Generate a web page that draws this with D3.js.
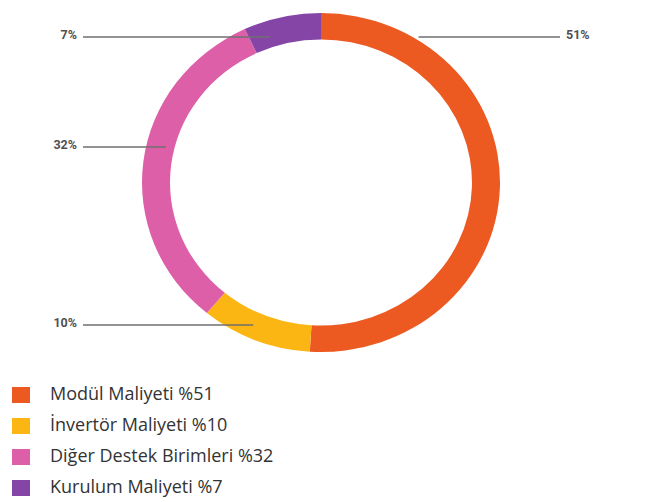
<!DOCTYPE html>
<html><head><meta charset="utf-8">
<script src="https://cdn.jsdelivr.net/npm/d3@7"></script>
<style>
html,body{margin:0;padding:0;background:#fff;}
svg{display:block;}
</style></head>
<body>
<svg id="chart" width="658" height="502"></svg>
<script>
// Data
const categories = ["Modül Maliyeti", "İnvertör Maliyeti", "Diğer Destek Birimleri", "Kurulum Maliyeti"];
const values = [51, 10, 32, 7];
const legendLabels = ["Modül Maliyeti %51", "İnvertör Maliyeti %10", "Diğer Destek Birimleri %32", "Kurulum Maliyeti %7"];
const colors = ["#EC5A22", "#FBB614", "#DD5FA8", "#8445A6"];

const svg = d3.select("#chart");
const cx = 321, cy = 182.5, R = 179, r = 151, yScale = 0.947;

const pie = d3.pie().sort(null).value(d => d)(values);
const arc = d3.arc().innerRadius(r).outerRadius(R);

const g = svg.append("g").attr("transform", `translate(${cx},${cy}) scale(1,${yScale})`);
g.selectAll("path").data(pie).enter().append("path")
  .attr("d", arc)
  .attr("fill", (d, i) => colors[i]);

// Leader lines
const leaders = [
  {i: 0, y: 37, side: "right", rad: R + 3, labelX: 566, lineTo: 560},
  {i: 1, y: 325, side: "left", rad: 165, labelX: 77, lineTo: 83},
  {i: 2, y: 147, side: "left", rad: 159.5, labelX: 77, lineTo: 83},
  {i: 3, y: 37, side: "left", rad: null, endX: 270, labelX: 77, lineTo: 83}
];
function ringX(y, rad, side) {
  const dy = (y - cy) / yScale;
  const dx = Math.sqrt(Math.max(0, rad * rad - dy * dy));
  return side === "right" ? cx + dx : cx - dx;
}
leaders.forEach(L => {
  const ex = L.rad ? ringX(L.y, L.rad, L.side) : L.endX;
  svg.append("line")
    .attr("x1", L.lineTo).attr("x2", ex)
    .attr("y1", L.y).attr("y2", L.y)
    .attr("stroke", "#6f6f6f").attr("stroke-width", 1.3);
  svg.append("text")
    .attr("x", L.labelX).attr("y", L.y - 1)
    .attr("text-anchor", L.side === "right" ? "start" : "end")
    .attr("dominant-baseline", "middle")
    .attr("font-family", "Roboto, 'DejaVu Sans', sans-serif")
    .attr("font-weight", "bold")
    .attr("font-size", 12.5)
    .attr("fill", "#505050")
    .text(values[L.i] + "%");
});

// Legend
const lg = svg.append("g");
const rowY = d3.scalePoint().domain(d3.range(legendLabels.length)).range([395, 488]);
legendLabels.forEach((t, i) => {
  lg.append("rect")
    .attr("x", 12).attr("y", rowY(i) - 8)
    .attr("width", 18).attr("height", 16)
    .attr("fill", colors[i]);
  lg.append("text")
    .attr("x", 50).attr("y", rowY(i))
    .attr("dominant-baseline", "middle")
    .attr("font-family", "'Open Sans', Lato, sans-serif")
    .attr("font-size", 18)
    .attr("fill", "#333")
    .text(t);
});
</script>
</body></html>
